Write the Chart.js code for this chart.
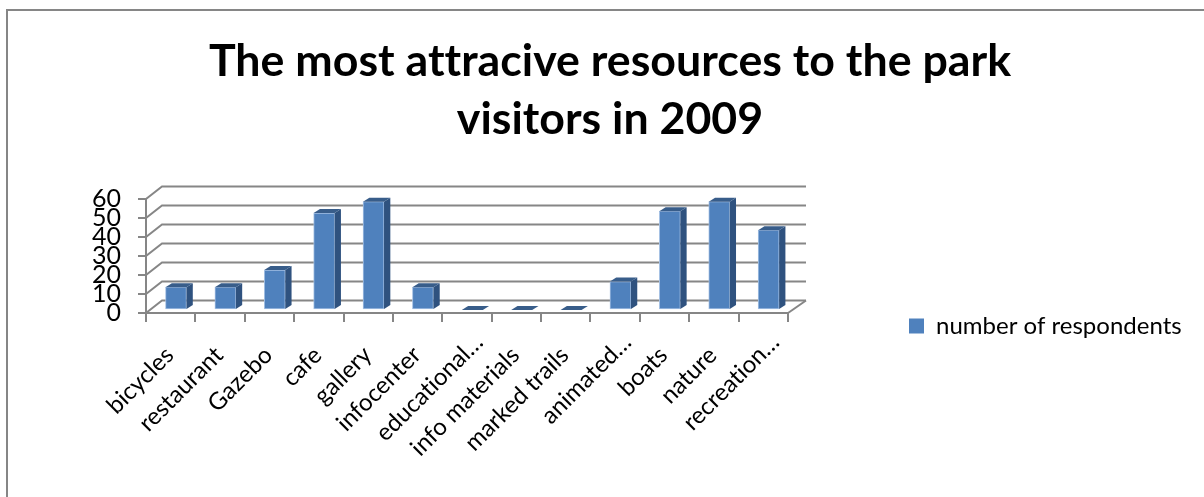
<!DOCTYPE html>
<html>
<head>
<meta charset="utf-8">
<title>Park resources</title>
<script src="https://cdn.jsdelivr.net/npm/chart.js@4"></script>
<style>
  html, body { margin: 0; padding: 0; background: #fff; overflow: hidden; }
  #frame { position: absolute; left: 6px; top: 9px; right: 0; bottom: 0;
           border-left: 2px solid #868686; border-top: 2px solid #868686; }
  #chart { position: absolute; left: 0; top: 0; }
</style>
</head>
<body>
<div id="frame"></div>
<canvas id="chart" width="1204" height="497"></canvas>
<script>
const categories = ['bicycles', 'restaurant', 'Gazebo', 'cafe', 'gallery', 'infocenter',
  'educational…', 'info materials', 'marked trails', 'animated…', 'boats', 'nature', 'recreation…'];
const respondents = [12, 12, 21, 51, 57, 12, 0, 0, 0, 15, 52, 57, 42];
const yTicks = [0, 10, 20, 30, 40, 50, 60];
const seriesName = 'number of respondents';
const titleLines = ['The most attracive resources to the park', 'visitors in 2009'];

const fontName = 'Lato, "Open Sans", sans-serif';
const gridColor = '#868686';

// fake 3D: back wall and floor are offset from the front axes,
// bars sit partway into the floor
const wallDx = 16, wallDy = 12.5, wallRightDx = 18;
const barDx = 5.3, barDy = 3;
const sideDx = 6.3, sideDy = 4;

const threeD = {
  id: 'threeD',
  beforeInit(chart) {
    // keep a wide empty strip for the legend on the right
    const fit = chart.legend.fit;
    chart.legend.fit = function () {
      fit.call(this);
      this.width = 416;
    };
  },
  afterLayout(chart) {
    chart.legend.left = 901;
    chart.legend.top = 306;
  },
  beforeDraw(chart) {
    // tiny spacing switches off the Lato tt ligature
    chart.ctx.letterSpacing = '0.01px';
  },
  beforeDatasetsDraw(chart) {
    const { ctx, chartArea: area, scales: { y } } = chart;
    ctx.save();
    ctx.strokeStyle = gridColor;
    ctx.lineWidth = 2;
    yTicks.forEach((v) => {
      const py = y.getPixelForValue(v);
      ctx.beginPath();
      ctx.moveTo(area.left, py);
      ctx.lineTo(area.left + wallDx, py - wallDy);
      ctx.lineTo(area.right + wallRightDx, py - wallDy);
      ctx.stroke();
    });
    const py0 = y.getPixelForValue(0);
    ctx.beginPath();
    ctx.moveTo(area.right, py0);
    ctx.lineTo(area.right + wallRightDx, py0 - wallDy);
    ctx.stroke();
    ctx.restore();
  },
  beforeDatasetDraw(chart) {
    chart.ctx.save();
    chart.ctx.translate(barDx, -barDy);
  },
  afterDatasetDraw(chart, args) {
    const { ctx } = chart;
    args.meta.data.forEach((bar) => {
      const { x, y, base, width } = bar.getProps(['x', 'y', 'base', 'width'], true);
      const l = x - width / 2, r = x + width / 2;
      if (base > y) {
        ctx.fillStyle = '#2F527F';
        ctx.beginPath();
        ctx.moveTo(r, y);
        ctx.lineTo(r + sideDx, y - sideDy);
        ctx.lineTo(r + sideDx, base - sideDy);
        ctx.lineTo(r, base);
        ctx.closePath();
        ctx.fill();
      }
      ctx.fillStyle = '#385D8A';
      ctx.beginPath();
      ctx.moveTo(l, y);
      ctx.lineTo(r, y);
      ctx.lineTo(r + sideDx, y - sideDy);
      ctx.lineTo(l + sideDx, y - sideDy);
      ctx.closePath();
      ctx.fill();
    });
    ctx.restore();
  }
};

new Chart(document.getElementById('chart'), {
  type: 'bar',
  data: {
    labels: categories,
    datasets: [{
      label: seriesName,
      data: respondents,
      backgroundColor: '#4F81BD',
      borderColor: '#A5C1E4',
      borderWidth: 1,
      borderSkipped: false,
      barThickness: 21
    }]
  },
  plugins: [threeD],
  options: {
    responsive: false,
    animation: false,
    layout: { padding: { left: 16 } },
    plugins: {
      tooltip: { enabled: false },
      title: {
        display: true,
        text: titleLines,
        color: '#000',
        font: { family: fontName, size: 44.7, weight: 'bold', lineHeight: 58 / 44.7 },
        padding: { top: 33, bottom: 50 }
      },
      legend: {
        position: 'right',
        align: 'start',
        labels: {
          boxWidth: 15,
          boxHeight: 15,
          padding: 8,
          color: '#000',
          // same swatch colour as the bars, without the light edge
          generateLabels(chart) {
            return Chart.defaults.plugins.legend.labels.generateLabels(chart)
              .map((item) => ({ ...item, lineWidth: 0 }));
          },
          font: { family: fontName, size: 24 }
        }
      }
    },
    scales: {
      x: {
        afterFit(scale) { scale.height = 184; },
        grid: { drawOnChartArea: false, tickLength: 9, tickColor: gridColor, lineWidth: 2 },
        border: { color: gridColor, width: 2 },
        ticks: {
          autoSkip: false,
          minRotation: 45,
          maxRotation: 45,
          labelOffset: 12,
          padding: 6,
          color: '#000',
          font: { family: fontName, size: 24 },
          // the cut-off labels hang their dots past the anchor, so pad the others
          callback(value) {
            const label = categories[value];
            return label.endsWith('…') ? label : label + '\u00A0\u00A0\u00A0';
          }
        }
      },
      y: {
        min: 0,
        max: 60,
        afterFit(scale) { scale.width = 130; },
        grid: { drawOnChartArea: false, tickLength: 8, tickColor: gridColor, lineWidth: 2 },
        border: { color: gridColor, width: 2 },
        ticks: {
          stepSize: 10,
          autoSkip: false,
          padding: 17,
          color: '#000',
          font: { family: fontName, size: 25 }
        }
      }
    }
  }
});
</script>
</body>
</html>
